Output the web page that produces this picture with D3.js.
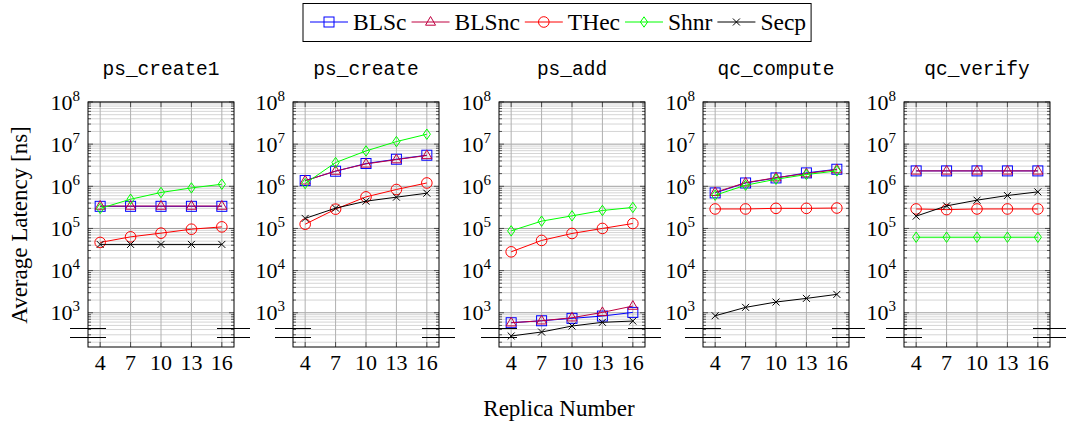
<!DOCTYPE html>
<html>
<head>
<meta charset="utf-8">
<script src="https://cdn.jsdelivr.net/npm/d3@7"></script>
<style>
  body { margin: 0; background: #fff; }
</style>
</head>
<body>
<div id="chart"></div>
<script>
// Replica counts on the x axis and the five benchmarked operations (one panel each).
const replicas = [4, 7, 10, 13, 16];
const operations = ["ps_create1", "ps_create", "ps_add", "qc_compute", "qc_verify"];
const seriesNames = ["BLSc", "BLSnc", "THec", "Shnr", "Secp"];

// Average latency in ns, one row per operation, one value per replica count.
const blsc = [
  [335000, 335000, 335000, 335000, 335000],
  [1370000, 2280000, 3470000, 4390000, 5460000],
  [580, 646, 736, 835, 1020],
  [698000, 1200000, 1580000, 2080000, 2540000],
  [2320000, 2320000, 2320000, 2320000, 2320000]
];
const blsnc = [
  [340000, 340000, 340000, 340000, 340000],
  [1350000, 2300000, 3400000, 4300000, 5400000],
  [580, 646, 762, 1020, 1440],
  [720000, 1220000, 1600000, 2000000, 2500000],
  [2320000, 2320000, 2320000, 2320000, 2320000]
];
const thec = [
  [46600, 63200, 77400, 96000, 109000],
  [126000, 287000, 561000, 840000, 1200000],
  [27900, 52000, 76000, 100000, 131000],
  [290000, 290000, 300000, 300000, 305000],
  [290000, 280000, 290000, 290000, 290000]
];
const shnr = [
  [298000, 494000, 713000, 916000, 1120000],
  [1160000, 3660000, 6900000, 11500000, 17200000],
  [87700, 149000, 199000, 267000, 315000],
  [615000, 1060000, 1470000, 1900000, 2320000],
  [62000, 62000, 62000, 62000, 62000]
];
const secp = [
  [41800, 41800, 41800, 41800, 41800],
  [173000, 303000, 444000, 552000, 686000],
  [281, 349, 484, 593, 636],
  [849, 1343, 1795, 2193, 2730],
  [196000, 343000, 469000, 605000, 737000]
];
const yTickValues = [1e3, 1e4, 1e5, 1e6, 1e7, 1e8];

const seriesData = [blsc, blsnc, thec, shnr, secp];
const seriesColors = ["#0000ff", "#bf0040", "#ff0000", "#00ff00", "#000000"];
const seriesMarkers = ["square", "triangle", "circle", "diamond", "cross"];

const W = 1066, H = 428;
const panelLeft = [88, 293, 499, 703, 904];
const panelTop = 102, pw = 146, ph = 245;
const serif = "'Liberation Serif', 'Times New Roman', serif";

const svg = d3.select("#chart").append("svg")
  .attr("width", W)
  .attr("height", H)
  .style("font-family", serif);

const x = d3.scaleLinear().domain([2.8, 17.2]).range([0, pw]);
const y = d3.scaleLog().domain([154, 1e8]).range([ph, 0]);

// minor log ticks (2..9 times each decade) inside the domain
const minorTicks = [];
for (let e = 2; e < 8; e++) {
  for (let m = 2; m <= 9; m++) {
    const v = m * Math.pow(10, e);
    if (v >= y.domain()[0] && v <= y.domain()[1]) minorTicks.push(v);
  }
}

// draw one marker of a given kind into a selection
function drawMarker(sel, kind, color, cx, cy) {
  const g = sel.append("g").attr("transform", `translate(${cx},${cy})`)
    .attr("fill", "none").attr("stroke", color).attr("stroke-width", 1);
  if (kind === "square") {
    g.append("rect").attr("x", -5).attr("y", -5).attr("width", 10).attr("height", 10);
  } else if (kind === "circle") {
    g.append("circle").attr("r", 5.3);
  } else if (kind === "triangle") {
    g.append("path").attr("d", "M0,-5.5L5,3.2L-5,3.2Z");
  } else if (kind === "diamond") {
    g.append("path").attr("d", "M0,-5.2L3.6,0L0,5.2L-3.6,0Z");
  } else if (kind === "cross") {
    g.append("path").attr("d", "M-3.5,-3.5L3.5,3.5M-3.5,3.5L3.5,-3.5");
  }
}

const line = d3.line()
  .x((d, i) => x(replicas[i]))
  .y(d => y(d));

operations.forEach((op, p) => {
  const g = svg.append("g")
    .attr("transform", `translate(${panelLeft[p]},${panelTop})`);

  // grid: minor, then major, then vertical
  g.selectAll("line.minor").data(minorTicks).join("line")
    .attr("x1", 0).attr("x2", pw)
    .attr("y1", d => y(d)).attr("y2", d => y(d))
    .attr("stroke", "#d0d0d0").attr("stroke-width", 0.9);
  g.selectAll("line.major").data(yTickValues).join("line")
    .attr("x1", 0).attr("x2", pw)
    .attr("y1", d => y(d)).attr("y2", d => y(d))
    .attr("stroke", "#a0a0a0").attr("stroke-width", 1);
  g.selectAll("line.vgrid").data(replicas).join("line")
    .attr("x1", d => x(d)).attr("x2", d => x(d))
    .attr("y1", 0).attr("y2", ph)
    .attr("stroke", "#b0b0b0").attr("stroke-width", 1);

  // tick marks on all four sides, pointing inward
  const ticks = g.append("g").attr("stroke", "#333").attr("stroke-width", 0.8);
  minorTicks.forEach(v => {
    ticks.append("line").attr("x1", 0).attr("x2", 3).attr("y1", y(v)).attr("y2", y(v));
    ticks.append("line").attr("x1", pw - 3).attr("x2", pw).attr("y1", y(v)).attr("y2", y(v));
  });
  yTickValues.forEach(v => {
    ticks.append("line").attr("x1", 0).attr("x2", 5).attr("y1", y(v)).attr("y2", y(v));
    ticks.append("line").attr("x1", pw - 5).attr("x2", pw).attr("y1", y(v)).attr("y2", y(v));
  });
  replicas.forEach(v => {
    ticks.append("line").attr("x1", x(v)).attr("x2", x(v)).attr("y1", ph).attr("y2", ph - 5);
    ticks.append("line").attr("x1", x(v)).attr("x2", x(v)).attr("y1", 0).attr("y2", 5);
  });

  // frame
  g.append("rect")
    .attr("width", pw).attr("height", ph)
    .attr("fill", "none").attr("stroke", "#000").attr("stroke-width", 1);

  // y tick labels 10^n
  yTickValues.forEach(v => {
    const t = g.append("text")
      .attr("x", -8).attr("y", y(v) + 7.5)
      .attr("text-anchor", "end")
      .attr("font-size", 22)
      .text("10");
    t.append("tspan")
      .attr("font-size", 15)
      .attr("dy", -9)
      .text(Math.round(Math.log10(v)));
  });

  // x tick labels
  g.selectAll("text.xt").data(replicas).join("text")
    .attr("x", d => x(d)).attr("y", 370 - panelTop)
    .attr("text-anchor", "middle")
    .attr("font-size", 22)
    .text(d => d);

  // panel title
  g.append("text")
    .attr("x", pw / 2).attr("y", 75 - panelTop)
    .attr("text-anchor", "middle")
    .attr("font-family", "'Liberation Mono', 'DejaVu Sans Mono', monospace")
    .attr("font-size", 19.5)
    .text(op);

  // series lines and markers
  seriesData.forEach((s, k) => {
    g.append("path")
      .attr("d", line(s[p]))
      .attr("fill", "none")
      .attr("stroke", seriesColors[k])
      .attr("stroke-width", 1);
    s[p].forEach((v, i) => drawMarker(g, seriesMarkers[k], seriesColors[k], x(replicas[i]), y(v)));
  });

  // axis break marks near the bottom
  const br = g.append("g").attr("stroke", "#000").attr("stroke-width", 1);
  [ph - 18.5, ph - 9.5].forEach(by => {
    br.append("line").attr("x1", -18).attr("x2", 18).attr("y1", by).attr("y2", by);
    br.append("line").attr("x1", pw - 17).attr("x2", pw + 16).attr("y1", by).attr("y2", by);
  });
});

// axis titles
svg.append("text")
  .attr("transform", "translate(27,225) rotate(-90)")
  .attr("text-anchor", "middle")
  .attr("font-size", 23)
  .text("Average Latency [ns]");

svg.append("text")
  .attr("x", 559).attr("y", 416)
  .attr("text-anchor", "middle")
  .attr("font-size", 23)
  .text("Replica Number");

// legend
const legend = svg.append("g");
const legendBox = legend.append("rect")
  .attr("fill", "#fff").attr("stroke", "#000").attr("stroke-width", 1);
let lx = 310;
const ly = 22;
seriesNames.forEach((name, k) => {
  legend.append("line")
    .attr("x1", lx).attr("x2", lx + 38)
    .attr("y1", ly).attr("y2", ly)
    .attr("stroke", seriesColors[k]).attr("stroke-width", 1);
  drawMarker(legend, seriesMarkers[k], seriesColors[k], lx + 19, ly);
  const t = legend.append("text")
    .attr("x", lx + 43).attr("y", ly + 8)
    .attr("font-size", 23.5)
    .text(name);
  lx = lx + 43 + t.node().getComputedTextLength() + 5;
});
legendBox
  .attr("x", 303).attr("y", 3.5)
  .attr("width", lx - 303).attr("height", 38);
</script>
</body>
</html>
